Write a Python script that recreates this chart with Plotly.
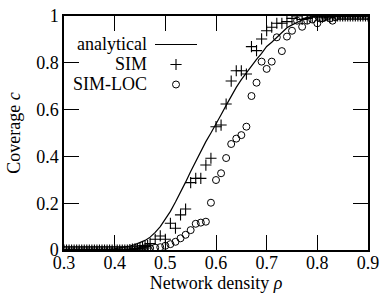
import plotly.graph_objects as go

# ---------------- data ----------------
# analytical curve, rho = 0.30 .. 0.90 step 0.01
rho_an = [round(0.30 + 0.01 * i, 2) for i in range(61)]
c_an = [0, 0, 0, 0, 0, 0, 0, 0, 0, 0.002,          # 0.30-0.39
        0.005, 0.008, 0.012, 0.017, 0.023, 0.031, 0.041, 0.055, 0.075, 0.10,   # 0.40-0.49
        0.13, 0.165, 0.205, 0.245, 0.29, 0.335, 0.38, 0.422, 0.463, 0.50,     # 0.50-0.59
        0.537, 0.578, 0.618, 0.658, 0.695, 0.728, 0.758, 0.788, 0.815, 0.84,  # 0.60-0.69
        0.87, 0.888, 0.908, 0.927, 0.95, 0.962, 0.973, 0.983, 0.991, 0.997,   # 0.70-0.79
        1, 1, 1, 1, 1, 1, 1, 1, 1, 1, 1]                                      # 0.80-0.90

# simulation sample densities
rho_lo = [round(0.300 + 0.005 * i, 3) for i in range(34)]   # 0.300 .. 0.465
rho_mid = [round(0.47 + 0.01 * i, 2) for i in range(34)]    # 0.47 .. 0.80
rho_hi = [round(0.805 + 0.005 * i, 3) for i in range(20)]   # 0.805 .. 0.900
rho_sim = rho_lo + rho_mid + rho_hi

sim_lo = [0] * 26 + [0.002, 0.004, 0.005, 0.006, 0.008, 0.012, 0.015, 0.02]
sim_mid = [0.028, 0.046, 0.06, 0.046, 0.114, 0.093, 0.15, 0.175, 0.288, 0.306,
           0.306, 0.363, 0.392, 0.527, 0.534, 0.624, 0.722, 0.766, 0.766, 0.752,
           0.869, 0.852, 0.902, 0.937, 0.952, 0.969, 0.969, 0.976, 0.99, 1.0,
           0.985, 0.99, 0.995, 1.0]
sim_hi = [1, 0.995, 1, 1, 0.995, 1, 1, 1, 1, 1, 1, 1, 1, 1, 1, 1, 1, 1, 1, 1]
c_sim = sim_lo + sim_mid + sim_hi

loc_lo = [0] * 28 + [0.003, 0.004, 0.005, 0.006, 0.007, 0.008]
loc_mid = [0.008, 0.01, 0.012, 0.018, 0.025, 0.035, 0.05, 0.065, 0.085, 0.112,
           0.117, 0.121, 0.202, 0.299, 0.328, 0.393, 0.453, 0.476, 0.491, 0.527,
           0.658, 0.715, 0.805, 0.774, 0.805, 0.909, 0.850, 0.912, 0.937, 0.980,
           0.954, 0.980, 0.985, 0.969]
loc_hi = [0.99, 0.99, 0.995, 1, 0.99, 0.98, 0.995] + [1] * 13
c_loc = loc_lo + loc_mid + loc_hi

x_ticks = [0.3, 0.4, 0.5, 0.6, 0.7, 0.8, 0.9]
x_ticktext = ["0.3", "0.4", "0.5", "0.6", "0.7", "0.8", "0.9"]
y_ticks = [0, 0.2, 0.4, 0.6, 0.8, 1]
y_ticktext = ["0", "0.2", "0.4", "0.6", "0.8", "1"]

legend_names = ["analytical", "SIM", "SIM-LOC"]

# ---------------- figure ----------------
FONT = "Liberation Serif, Times New Roman, serif"
FS = 18
W, H = 383, 293
L, R, T, B = 64, 15, 16, 43
pw, ph = W - L - R, H - T - B

cross_style = dict(symbol="cross-thin-open", size=8, color="black",
                   line=dict(color="black", width=1.1))
circle_style = dict(symbol="circle-open", size=7, color="black",
                    line=dict(color="black", width=1))

fig = go.Figure()
fig.add_trace(go.Scatter(x=rho_an, y=c_an, mode="lines",
                         line=dict(color="black", width=1.2),
                         name=legend_names[0], showlegend=False))
fig.add_trace(go.Scatter(x=rho_sim, y=c_sim, mode="markers", marker=cross_style,
                         name=legend_names[1], showlegend=False))
fig.add_trace(go.Scatter(x=rho_sim, y=c_loc, mode="markers", marker=circle_style,
                         name=legend_names[2], showlegend=False))

axis_common = dict(showline=True, linecolor="black", linewidth=1.5, mirror="ticks",
                   ticks="inside", ticklen=15, tickwidth=1, tickcolor="black",
                   showgrid=False, zeroline=False, automargin=False,
                   ticklabeloverflow="allow",
                   tickfont=dict(family=FONT, size=FS, color="black"))

fig.update_xaxes(range=[0.3, 0.9], tickvals=x_ticks, ticktext=x_ticktext,
                 ticklabelstandoff=-4,
                 title=dict(text="Network density <i>ρ</i>", standoff=4,
                            font=dict(family=FONT, size=FS, color="black")),
                 **axis_common)
fig.update_yaxes(range=[0, 1], tickvals=y_ticks, ticktext=y_ticktext,
                 title=dict(text="Coverage <i>c</i>", standoff=11,
                            font=dict(family=FONT, size=FS, color="black")),
                 **axis_common)

# key drawn gnuplot-style on an invisible overlay measured in plot pixels
key_text_x = 149
key_sample_x = 176
key_rows = [43.5, 63.5, 84]

def kx(x):
    return x - L

def ky(y):
    return (H - B) - y

fig.update_layout(
    xaxis2=dict(range=[0, pw], overlaying="x", anchor="y2", visible=False,
                fixedrange=True),
    yaxis2=dict(range=[0, ph], overlaying="y", anchor="x2", visible=False,
                fixedrange=True),
)
for name, yy in zip(legend_names, key_rows):
    fig.add_annotation(x=kx(key_text_x), y=ky(yy), xref="x2", yref="y2",
                       text=name, showarrow=False, xanchor="right", yanchor="middle",
                       font=dict(family=FONT, size=FS, color="black"))
fig.add_trace(go.Scatter(x=[kx(155), kx(197)], y=[ky(44.5), ky(44.5)], mode="lines",
                         line=dict(color="black", width=1.2), xaxis="x2", yaxis="y2",
                         showlegend=False, hoverinfo="skip"))
fig.add_trace(go.Scatter(x=[kx(key_sample_x)], y=[ky(64.5)], mode="markers",
                         marker=cross_style, xaxis="x2", yaxis="y2",
                         showlegend=False, hoverinfo="skip"))
fig.add_trace(go.Scatter(x=[kx(key_sample_x)], y=[ky(84.5)], mode="markers",
                         marker=circle_style, xaxis="x2", yaxis="y2",
                         showlegend=False, hoverinfo="skip"))

fig.update_layout(width=W, height=H, margin=dict(l=L, r=R, t=T, b=B),
                  paper_bgcolor="white", plot_bgcolor="white",
                  font=dict(family=FONT, size=FS, color="black"))

fig.write_html(
    "out.html",
    config={"displayModeBar": False},
    post_script="document.body.style.margin='0';document.body.style.overflow='hidden';",
)
